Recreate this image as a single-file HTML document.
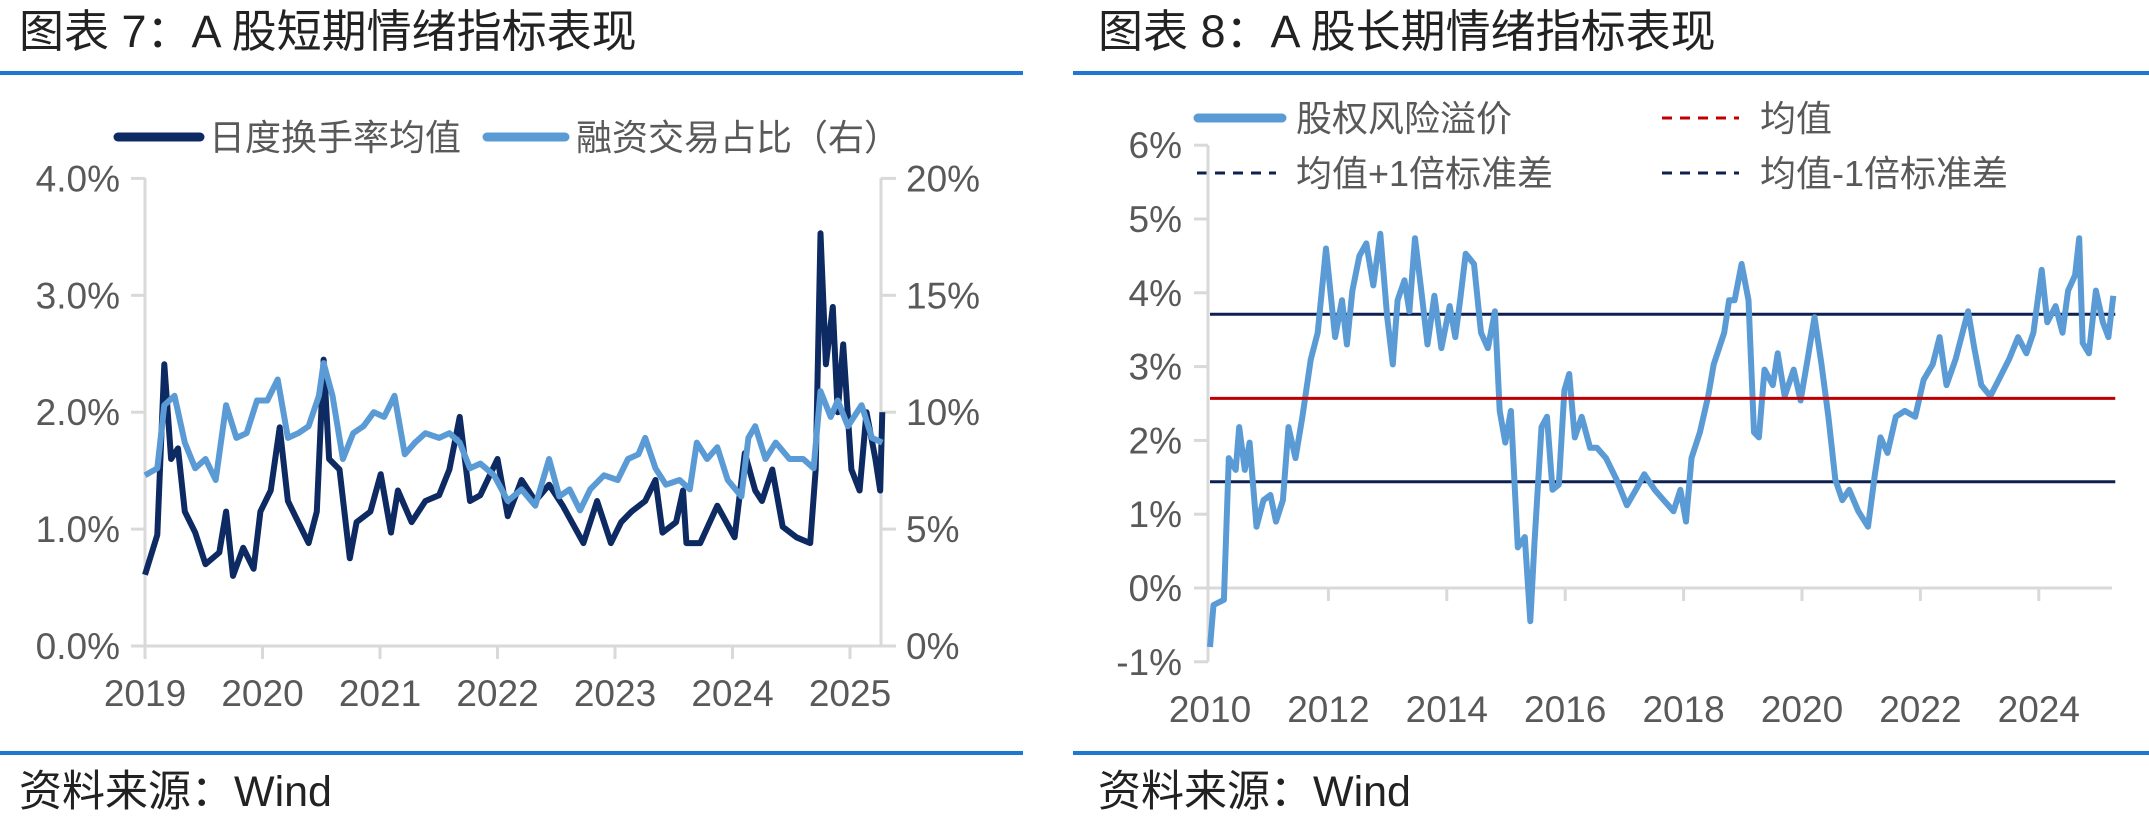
<!DOCTYPE html>
<html><head><meta charset="utf-8">
<style>
html,body{margin:0;padding:0;background:#fff;}
svg{display:block;}
text{font-family:"Liberation Sans","Noto Sans CJK SC",sans-serif;}
</style></head>
<body>
<svg id="s" width="2149" height="819" viewBox="0 0 2149 819" xmlns="http://www.w3.org/2000/svg">
  <!-- Left panel -->
  <text x="19" y="47" font-size="45" fill="#222">图表 7：A 股短期情绪指标表现</text>
  <rect x="0" y="71" width="1023" height="4" fill="#1f78cf"/>
  <rect x="0" y="751" width="1023" height="4" fill="#1f78cf"/>
  <text x="19" y="806" font-size="43" fill="#222">资料来源：Wind</text>
  <g>
    <line x1="118" y1="137" x2="200" y2="137" stroke="#0e2a62" stroke-width="9" stroke-linecap="round"/>
    <text x="209" y="150" font-size="36" fill="#595959">日度换手率均值</text>
    <line x1="487" y1="137" x2="565" y2="137" stroke="#5b9bd5" stroke-width="9" stroke-linecap="round"/>
    <text x="576" y="150" font-size="36" fill="#595959">融资交易占比（右）</text>
  </g>
  <g id="c7axes"></g>
  <g id="c7lines"></g>

  <!-- Right panel -->
  <text x="1098" y="47" font-size="45" fill="#222">图表 8：A 股长期情绪指标表现</text>
  <rect x="1073" y="71" width="1076" height="4" fill="#1f78cf"/>
  <rect x="1073" y="751" width="1076" height="4" fill="#1f78cf"/>
  <text x="1098" y="806" font-size="43" fill="#222">资料来源：Wind</text>
  <g>
    <line x1="1198" y1="118" x2="1282" y2="118" stroke="#5b9bd5" stroke-width="9" stroke-linecap="round"/>
    <text x="1296" y="131" font-size="36" fill="#595959">股权风险溢价</text>
    <line x1="1662" y1="118" x2="1739" y2="118" stroke="#c00000" stroke-width="3" stroke-dasharray="10,8"/>
    <text x="1760" y="131" font-size="36" fill="#595959">均值</text>
    <line x1="1197" y1="173" x2="1276" y2="173" stroke="#0e2050" stroke-width="3" stroke-dasharray="10,8"/>
    <text x="1296" y="186" font-size="36" fill="#595959">均值+1倍标准差</text>
    <line x1="1662" y1="173" x2="1739" y2="173" stroke="#0e2050" stroke-width="3" stroke-dasharray="10,8"/>
    <text x="1760" y="186" font-size="36" fill="#595959">均值-1倍标准差</text>
  </g>
  <g id="c8axes"></g>
  <g id="c8lines"></g>
</svg>
<script>
// ---------- Chart 7 data ----------
const turnoverDates = [2019.0,2019.105,2019.164,2019.222,2019.281,2019.339,2019.427,2019.515,2019.632,2019.69,2019.749,2019.836,2019.924,2019.982,2020.07,2020.146,2020.216,2020.304,2020.392,2020.462,2020.52,2020.567,2020.655,2020.743,2020.801,2020.918,2021.006,2021.094,2021.152,2021.269,2021.386,2021.503,2021.591,2021.678,2021.766,2021.854,2022.0,2022.088,2022.205,2022.322,2022.439,2022.556,2022.731,2022.848,2022.965,2023.053,2023.14,2023.257,2023.345,2023.404,2023.52,2023.579,2023.608,2023.725,2023.871,2024.018,2024.105,2024.193,2024.251,2024.339,2024.427,2024.544,2024.661,2024.708,2024.749,2024.795,2024.854,2024.895,2024.942,2025.012,2025.082,2025.14,2025.216,2025.257,2025.275];
const turnoverValues = [0.61,0.95,2.41,1.6,1.69,1.15,0.97,0.7,0.8,1.15,0.6,0.84,0.66,1.15,1.33,1.87,1.24,1.06,0.88,1.15,2.45,1.6,1.51,0.75,1.06,1.15,1.47,0.97,1.33,1.06,1.24,1.29,1.51,1.96,1.24,1.29,1.6,1.11,1.42,1.24,1.38,1.2,0.88,1.24,0.88,1.06,1.15,1.24,1.42,0.97,1.06,1.33,0.88,0.88,1.2,0.93,1.65,1.33,1.24,1.51,1.02,0.93,0.88,1.51,3.53,2.41,2.9,2.0,2.58,1.51,1.33,2.0,1.6,1.33,2.0];
const marginDates = [2019.0,2019.105,2019.164,2019.251,2019.339,2019.427,2019.515,2019.602,2019.69,2019.778,2019.865,2019.953,2020.041,2020.129,2020.216,2020.304,2020.392,2020.48,2020.52,2020.596,2020.684,2020.772,2020.86,2020.947,2021.035,2021.123,2021.211,2021.298,2021.386,2021.503,2021.591,2021.678,2021.766,2021.854,2021.971,2022.088,2022.205,2022.322,2022.439,2022.526,2022.614,2022.702,2022.789,2022.906,2023.023,2023.111,2023.199,2023.257,2023.345,2023.433,2023.55,2023.637,2023.696,2023.784,2023.871,2023.959,2024.076,2024.135,2024.193,2024.281,2024.368,2024.485,2024.602,2024.69,2024.749,2024.836,2024.895,2024.982,2025.099,2025.187,2025.275];
const marginValues = [7.3,7.6,10.3,10.7,8.7,7.6,8.0,7.1,10.3,8.9,9.1,10.5,10.5,11.4,8.9,9.1,9.4,10.7,12.1,10.7,8.0,9.1,9.4,10.0,9.8,10.7,8.2,8.7,9.1,8.9,9.1,8.7,7.6,7.8,7.3,6.2,6.7,6.0,8.0,6.4,6.7,5.8,6.7,7.3,7.1,8.0,8.2,8.9,7.6,6.9,7.1,6.7,8.7,8.0,8.5,7.1,6.4,8.9,9.4,8.0,8.7,8.0,8.0,7.6,10.9,9.8,10.5,9.4,10.3,8.9,8.7];
const c7LeftTicks = ["0.0%","1.0%","2.0%","3.0%","4.0%"];
const c7RightTicks = ["0%","5%","10%","15%","20%"];
const c7Years = ["2019","2020","2021","2022","2023","2024","2025"];

// ---------- Chart 8 data ----------
const erpDates = [2010.0,2010.059,2010.235,2010.317,2010.434,2010.493,2010.587,2010.669,2010.786,2010.904,2011.021,2011.115,2011.232,2011.326,2011.444,2011.561,2011.702,2011.819,2011.96,2012.113,2012.23,2012.312,2012.406,2012.523,2012.641,2012.758,2012.876,2012.993,2013.087,2013.169,2013.286,2013.369,2013.462,2013.58,2013.674,2013.791,2013.908,2014.049,2014.143,2014.225,2014.319,2014.46,2014.577,2014.695,2014.812,2014.894,2014.988,2015.082,2015.2,2015.317,2015.411,2015.481,2015.599,2015.692,2015.786,2015.892,2015.986,2016.068,2016.162,2016.279,2016.42,2016.538,2016.69,2016.866,2017.042,2017.195,2017.336,2017.512,2017.664,2017.829,2017.946,2018.04,2018.134,2018.275,2018.415,2018.509,2018.685,2018.768,2018.862,2018.979,2019.096,2019.19,2019.272,2019.366,2019.507,2019.589,2019.707,2019.859,2019.977,2020.094,2020.211,2020.329,2020.446,2020.563,2020.681,2020.798,2020.951,2021.115,2021.232,2021.326,2021.444,2021.585,2021.737,2021.913,2022.054,2022.207,2022.324,2022.441,2022.594,2022.711,2022.805,2022.911,2023.028,2023.181,2023.322,2023.498,2023.65,2023.791,2023.908,2024.049,2024.143,2024.284,2024.401,2024.495,2024.613,2024.683,2024.742,2024.847,2024.965,2025.082,2025.176,2025.258];
const erpValues = [-0.8,-0.23,-0.16,1.76,1.6,2.18,1.6,1.97,0.83,1.19,1.26,0.9,1.19,2.18,1.76,2.32,3.1,3.46,4.6,3.4,3.9,3.3,4.03,4.5,4.67,4.1,4.8,3.67,3.03,3.9,4.17,3.75,4.74,3.96,3.3,3.96,3.25,3.82,3.4,3.9,4.53,4.39,3.46,3.25,3.75,2.4,1.97,2.4,0.55,0.69,-0.45,0.62,2.18,2.32,1.33,1.4,2.68,2.9,2.04,2.32,1.9,1.9,1.76,1.47,1.12,1.33,1.54,1.33,1.19,1.04,1.33,0.9,1.76,2.11,2.6,3.03,3.46,3.9,3.9,4.39,3.9,2.11,2.04,2.96,2.75,3.18,2.6,2.96,2.54,3.1,3.67,3.03,2.32,1.47,1.19,1.33,1.04,0.83,1.54,2.04,1.83,2.32,2.4,2.32,2.82,3.03,3.4,2.75,3.1,3.46,3.75,3.25,2.75,2.6,2.82,3.1,3.4,3.18,3.46,4.31,3.6,3.82,3.46,4.03,4.24,4.74,3.32,3.18,4.03,3.6,3.4,3.96];
const meanValue = [2.57];
const upperValue = [3.71];
const lowerValue = [1.44];
const c8Ticks = ["-1%","0%","1%","2%","3%","4%","5%","6%"];
const c8TickValues = [-1,0,1,2,3,4,5,6];
const c8Years = ["2010","2012","2014","2016","2018","2020","2022","2024"];

const NS = "http://www.w3.org/2000/svg";
function mk(tag, attrs, parent, txt){
  const e = document.createElementNS(NS, tag);
  for (const k in attrs) e.setAttribute(k, attrs[k]);
  if (txt !== undefined) e.textContent = txt;
  parent.appendChild(e);
  return e;
}
function pathFrom(xs, ys, fx, fy){
  return xs.map((d,i)=>(i?"L":"M")+fx(d).toFixed(1)+","+fy(ys[i]).toFixed(1)).join("");
}

// ---------- Chart 7 ----------
const c7x = y => 145 + (y - 2019) * 117.5;
const c7yL = v => 646 - v * 116.9;
const c7yR = v => 646 - v * 23.38;
const a7 = document.getElementById("c7axes");
const l7 = document.getElementById("c7lines");
let e;
e = mk("line",{x1:145,y1:178,x2:145,y2:646,stroke:"#d9d9d9","stroke-width":3},a7);
 
e = mk("line",{x1:881,y1:178,x2:881,y2:646,stroke:"#d9d9d9","stroke-width":3},a7);
 
e = mk("line",{x1:145,y1:646,x2:881,y2:646,stroke:"#d9d9d9","stroke-width":3},a7);
 
c7LeftTicks.forEach((t,i)=>{
  const y = c7yL(i);
  mk("line",{x1:131,y1:y,x2:145,y2:y,stroke:"#d9d9d9","stroke-width":3},a7);
  const tx = mk("text",{x:120,y:y+13,"font-size":37,fill:"#595959","text-anchor":"end"},a7,t);
  
  
});
c7RightTicks.forEach((t,i)=>{
  const y = c7yR(i*5);
  mk("line",{x1:881,y1:y,x2:896,y2:y,stroke:"#d9d9d9","stroke-width":3},a7);
  const tx = mk("text",{x:906,y:y+13,"font-size":37,fill:"#595959"},a7,t);
  
  
});
c7Years.forEach((t,i)=>{
  const x = c7x(2019+i);
  mk("line",{x1:x,y1:646,x2:x,y2:659,stroke:"#d9d9d9","stroke-width":3},a7);
  const tx = mk("text",{x:x,y:706,"font-size":37,fill:"#595959","text-anchor":"middle"},a7,t);
  
  
});
e = mk("path",{d:pathFrom(turnoverDates,turnoverValues,c7x,c7yL),fill:"none",stroke:"#0e2a62","stroke-width":6,"stroke-linejoin":"round"},l7);
 
e = mk("path",{d:pathFrom(marginDates,marginValues,c7x,c7yR),fill:"none",stroke:"#5b9bd5","stroke-width":6,"stroke-linejoin":"round"},l7);
 

// ---------- Chart 8 ----------
const c8x = y => 1210 + (y - 2010) * 59.2;
const c8y = v => 588 - v * 73.8;
const a8 = document.getElementById("c8axes");
const l8 = document.getElementById("c8lines");
e = mk("line",{x1:1208,y1:c8y(6),x2:1208,y2:c8y(-1),stroke:"#d9d9d9","stroke-width":3},a8);
 
e = mk("line",{x1:1208,y1:c8y(0),x2:2112,y2:c8y(0),stroke:"#d9d9d9","stroke-width":3},a8);
 
c8Ticks.forEach((t,i)=>{
  const y = c8y(c8TickValues[i]);
  mk("line",{x1:1194,y1:y,x2:1208,y2:y,stroke:"#d9d9d9","stroke-width":3},a8);
  const tx = mk("text",{x:1182,y:y+13,"font-size":37,fill:"#595959","text-anchor":"end"},a8,t);
  
  
});
c8Years.forEach((t,i)=>{
  const x = c8x(2010+2*i);
  if (i>0) mk("line",{x1:x,y1:c8y(0),x2:x,y2:c8y(0)+13,stroke:"#d9d9d9","stroke-width":3},a8);
  const tx = mk("text",{x:x,y:722,"font-size":37,fill:"#595959","text-anchor":"middle"},a8,t);
  
  
});
const xEnd = c8x(erpDates[erpDates.length-1]) + 2;
e = mk("line",{x1:1210,y1:c8y(upperValue[0]),x2:xEnd,y2:c8y(upperValue[0]),stroke:"#0e2050","stroke-width":3},l8);
 
e = mk("line",{x1:1210,y1:c8y(lowerValue[0]),x2:xEnd,y2:c8y(lowerValue[0]),stroke:"#0e2050","stroke-width":3},l8);
 
e = mk("path",{d:pathFrom(erpDates,erpValues,c8x,c8y),fill:"none",stroke:"#5b9bd5","stroke-width":6,"stroke-linejoin":"round"},l8);
 
e = mk("line",{x1:1210,y1:c8y(meanValue[0]),x2:xEnd,y2:c8y(meanValue[0]),stroke:"#c00000","stroke-width":3},l8);
 
</script>
</body></html>
